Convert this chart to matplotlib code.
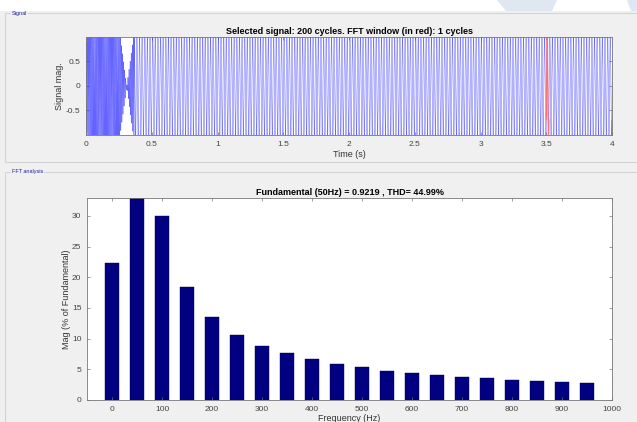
# encoding:utf-8

import numpy as np
import matplotlib

matplotlib.use('Agg')
import matplotlib.pyplot as plt
from matplotlib.patches import Rectangle, Polygon

# ================ data ===========================================
# signal: envelope (time in s, amplitude), local frequency per segment, window
t_end = 4.0
env_t = [0.0, 0.03, 0.25, 0.31, 0.37, 4.0]
env_amp = [0.88, 1.2, 1.2, 0.0, 1.2, 1.2]
seg_t = [0.0, 0.37, 4.0]
seg_freq = [120.0, 50.0]
fft_window = [3.50, 3.52]

# FFT bars: frequency (Hz) and magnitude (% of fundamental)
freq = [0, 50, 100, 150, 200, 250, 300, 350, 400, 450, 500,
        550, 600, 650, 700, 750, 800, 850, 900, 950]
mag = [22.3, 100.0, 29.9, 18.45, 13.5, 10.6, 8.84, 7.6, 6.62, 5.86, 5.32,
       4.77, 4.34, 4.02, 3.74, 3.53, 3.31, 3.04, 2.93, 2.77]

x_ticks_sig = [0, 0.5, 1, 1.5, 2, 2.5, 3, 3.5, 4]
y_ticks_sig = [-0.5, 0, 0.5]
x_ticks_fft = [0, 100, 200, 300, 400, 500, 600, 700, 800, 900, 1000]
y_ticks_fft = [0, 5, 10, 15, 20, 25, 30]

title_sig = "Selected signal: 200 cycles. FFT window (in red): 1 cycles"
title_fft = "Fundamental (50Hz) = 0.9219 , THD= 44.99%"

# =============================================
W, H = 637, 422
plt.rcParams['font.family'] = ['Liberation Sans', 'DejaVu Sans']
Figure = plt.figure(figsize=(W / 100, H / 100), dpi=100, facecolor='#f0f0f0')


def px_axes(left, top, right, bottom):
    return Figure.add_axes([left / W, 1 - bottom / H, (right - left) / W, (bottom - top) / H])


def px_poly(pts, color):
    Figure.add_artist(Polygon([(x / W, 1 - y / H) for x, y in pts], closed=True,
                              transform=Figure.transFigure, facecolor=color, edgecolor='none'))


def style_axes(ax):
    ax.tick_params(direction='in', length=2.5, width=0.5, labelsize=6,
                   labelcolor='#444444', color='#777777', top=True, right=True, pad=4)
    for s in ax.spines.values():
        s.set_linewidth(0.6)
        s.set_color('#777777')


# background strip, watermark and group boxes
Figure.add_artist(Rectangle((0, 1 - 11 / H), 1, 11 / H, transform=Figure.transFigure,
                            facecolor='white', edgecolor='none'))
px_poly([(497, 0), (557, 0), (552, 11), (506, 11)], '#dfe8f1')
px_poly([(627, 0), (637, 0), (637, 11), (631, 11)], '#dfe8f1')
Figure.add_artist(Rectangle((5 / W, 1 - 162 / H), 640 / W, 149 / H, transform=Figure.transFigure,
                            facecolor='none', edgecolor='#d4d4d4', lw=0.8))
Figure.add_artist(Rectangle((5 / W, -0.05), 640 / W, (422 - 172) / H + 0.05, transform=Figure.transFigure,
                            facecolor='none', edgecolor='#d4d4d4', lw=0.8))
Figure.text(12 / W, 1 - 14 / H, "Signal", fontsize=4, color='#2020a0', va='center',
            bbox=dict(facecolor='#f0f0f0', edgecolor='none', pad=0.5))
Figure.text(12 / W, 1 - 172 / H, "FFT analysis", fontsize=4, color='#2020a0', va='center',
            bbox=dict(facecolor='#f0f0f0', edgecolor='none', pad=0.5))

# ================ signal ======================
ax1 = px_axes(86, 37, 612, 135)
t = np.linspace(0, t_end, 80001)
amp = np.interp(t, env_t, env_amp)
f_local = np.array(seg_freq)[np.clip(np.searchsorted(seg_t, t, side='right') - 1, 0, len(seg_freq) - 1)]
phase = 2 * np.pi * np.cumsum(f_local) * (t[1] - t[0])
y = amp * np.sin(phase)
ax1.plot(t, y, color='#2a2aff', lw=0.35, alpha=0.75)
w = (t >= fft_window[0]) & (t <= fft_window[1])
ax1.plot(t[w], y[w], color='#ff7070', lw=0.8)
ax1.set_xlim(0, t_end)
ax1.set_ylim(-1.0, 1.0)
ax1.set_xticks(x_ticks_sig)
ax1.set_xticklabels([('%g' % v) for v in x_ticks_sig])
ax1.set_yticks(y_ticks_sig)
ax1.set_yticklabels([('%g' % v) for v in y_ticks_sig])
style_axes(ax1)
ax1.set_title(title_sig, fontsize=6.5, fontweight='bold', pad=2)
ax1.set_xlabel("Time (s)", fontsize=6.5, color='#333333', labelpad=1.5)
ax1.set_ylabel("Signal mag.", fontsize=6.5, color='#333333', labelpad=1)

# ================ FFT ======================
ax2 = px_axes(87, 198, 612, 400)
ax2.bar(freq, mag, width=27, color='#000080', edgecolor='#000060', lw=0.3)
ax2.set_xlim(-50, 1000)
ax2.set_ylim(0, 32.9)
ax2.set_xticks(x_ticks_fft)
ax2.set_yticks(y_ticks_fft)
style_axes(ax2)
ax2.set_title(title_fft, fontsize=6.5, fontweight='bold', pad=2)
ax2.set_xlabel("Frequency (Hz)", fontsize=6.5, color='#333333', labelpad=1)
ax2.set_ylabel("Mag (% of Fundamental)", fontsize=6.5, color='#333333', labelpad=1)

Figure.savefig('out.png', dpi=100, facecolor=Figure.get_facecolor())
